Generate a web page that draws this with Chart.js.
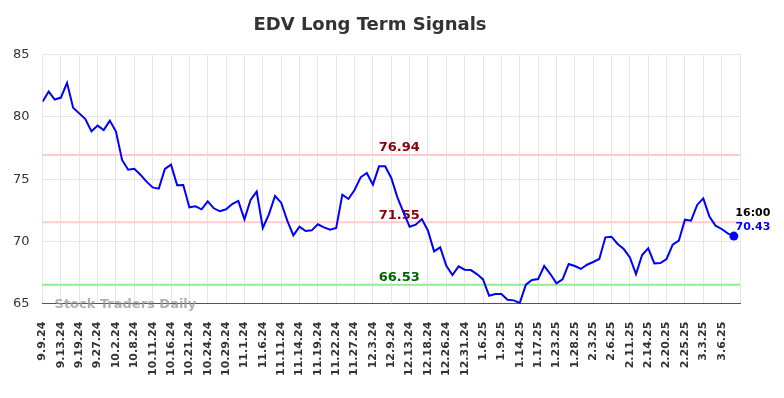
<!DOCTYPE html>
<html>
<head>
<meta charset="utf-8">
<script src="https://cdn.jsdelivr.net/npm/chart.js@4.4.0/dist/chart.umd.min.js"></script>
<style>
  html, body { margin: 0; padding: 0; background: #fff; }
  #wrap { width: 784px; height: 398px; }
</style>
</head>
<body>
<div id="wrap"><canvas id="signalChart"></canvas></div>
<script>
// Dates of each point (every 3rd one is shown on the axis)
var dates = [
  "9.9.24", "9.10.24", "9.12.24", "9.13.24", "9.16.24", "9.18.24",
  "9.19.24", "9.23.24", "9.25.24", "9.27.24", "9.30.24", "10.1.24",
  "10.2.24", "10.4.24", "10.7.24", "10.8.24", "10.9.24", "10.10.24",
  "10.11.24", "10.14.24", "10.15.24", "10.16.24", "10.17.24", "10.18.24",
  "10.21.24", "10.22.24", "10.23.24", "10.24.24", "10.25.24", "10.28.24",
  "10.29.24", "10.30.24", "10.31.24", "11.1.24", "11.4.24", "11.5.24",
  "11.6.24", "11.7.24", "11.8.24", "11.11.24", "11.12.24", "11.13.24",
  "11.14.24", "11.15.24", "11.18.24", "11.19.24", "11.20.24", "11.21.24",
  "11.22.24", "11.25.24", "11.26.24", "11.27.24", "11.29.24", "12.2.24",
  "12.3.24", "12.5.24", "12.6.24", "12.9.24", "12.10.24", "12.12.24",
  "12.13.24", "12.16.24", "12.17.24", "12.18.24", "12.20.24", "12.24.24",
  "12.26.24", "12.27.24", "12.30.24", "12.31.24", "1.2.25", "1.3.25",
  "1.6.25", "1.7.25", "1.8.25", "1.9.25", "1.10.25", "1.13.25",
  "1.14.25", "1.15.25", "1.16.25", "1.17.25", "1.21.25", "1.22.25",
  "1.23.25", "1.24.25", "1.27.25", "1.28.25", "1.30.25", "1.31.25",
  "2.3.25", "2.4.25", "2.5.25", "2.6.25", "2.7.25", "2.10.25",
  "2.11.25", "2.12.25", "2.13.25", "2.14.25", "2.18.25", "2.19.25",
  "2.20.25", "2.21.25", "2.24.25", "2.25.25", "2.26.25", "2.28.25",
  "3.3.25", "3.4.25", "3.5.25", "3.6.25", "3.7.25", "3.10.25"
];

// Closing prices
var prices = [
  81.22, 82.03, 81.39, 81.55, 82.73, 80.74, 80.28, 79.83, 78.84, 79.30,
  78.95, 79.70, 78.82, 76.54, 75.76, 75.84, 75.36, 74.80, 74.34, 74.24,
  75.82, 76.16, 74.52, 74.53, 72.74, 72.82, 72.58, 73.22, 72.66, 72.42,
  72.58, 73.00, 73.25, 71.77, 73.33, 74.00, 71.08, 72.17, 73.65, 73.11,
  71.67, 70.49, 71.18, 70.84, 70.89, 71.38, 71.13, 70.94, 71.08, 73.76,
  73.41, 74.13, 75.15, 75.50, 74.56, 76.03, 76.03, 75.10, 73.54, 72.33,
  71.18, 71.35, 71.80, 70.86, 69.20, 69.52, 68.05, 67.30, 68.00, 67.73,
  67.70, 67.38, 66.95, 65.64, 65.78, 65.78, 65.32, 65.27, 65.06, 66.53,
  66.90, 66.98, 68.03, 67.38, 66.63, 66.95, 68.19, 68.03, 67.79, 68.13,
  68.35, 68.59, 70.33, 70.38, 69.80, 69.39, 68.72, 67.38, 68.91, 69.44,
  68.24, 68.27, 68.59, 69.74, 70.06, 71.75, 71.67, 72.93, 73.46, 71.99,
  71.27, 71.00, 70.65, 70.43
];

// Signal levels
var resistanceLevels = [76.94, 71.55];
var supportLevels = [66.53];
var lastTime = "16:00";

var yTicks = [65, 70, 75, 80, 85];

var font = "DejaVu Sans";
var lastIndex = prices.length - 1;

// Lines, labels and watermark drawn on top of the plot
var overlay = {
  id: "overlay",
  beforeDatasetsDraw: function (chart) {
    var ctx = chart.ctx, a = chart.chartArea;
    var x = chart.scales.x, y = chart.scales.y;
    var labelX = x.getPixelForValue(58.3);
    ctx.save();
    ctx.lineWidth = 2;
    ctx.font = "bold 13px '" + font + "'";
    ctx.textAlign = "center";
    ctx.textBaseline = "alphabetic";
    resistanceLevels.forEach(function (lv) {
      var py = y.getPixelForValue(lv);
      ctx.strokeStyle = "#ffcccc";
      ctx.beginPath(); ctx.moveTo(a.left, py); ctx.lineTo(a.right, py); ctx.stroke();
      ctx.fillStyle = "#8b0000";
      ctx.fillText(lv.toFixed(2), labelX, py - 3.5);
    });
    supportLevels.forEach(function (lv) {
      var py = y.getPixelForValue(lv);
      ctx.strokeStyle = "#90ee90";
      ctx.beginPath(); ctx.moveTo(a.left, py); ctx.lineTo(a.right, py); ctx.stroke();
      ctx.fillStyle = "#006400";
      ctx.fillText(lv.toFixed(2), labelX, py - 3.5);
    });
    // watermark
    ctx.textAlign = "left";
    ctx.fillStyle = "rgba(150,150,150,0.75)";
    ctx.fillText("Stock Traders Daily", a.left + 12, a.bottom + 4);
    ctx.restore();
  },
  afterDatasetsDraw: function (chart) {
    var ctx = chart.ctx;
    var px = chart.scales.x.getPixelForValue(lastIndex);
    var py = chart.scales.y.getPixelForValue(prices[lastIndex]);
    ctx.save();
    ctx.font = "bold 11px '" + font + "'";
    ctx.textAlign = "center";
    ctx.fillStyle = "#000";
    ctx.fillText(lastTime, px + 19, py - 20.5);
    ctx.fillStyle = "#0000ff";
    ctx.fillText(prices[lastIndex].toFixed(2), px + 19, py - 6.5);
    ctx.restore();
  }
};

new Chart(document.getElementById("signalChart").getContext("2d"), {
  type: "line",
  data: {
    datasets: [{
      data: prices.map(function (v, i) { return { x: i, y: v }; }),
      borderColor: "#0000ff",
      backgroundColor: "#0000ff",
      borderWidth: 2,
      tension: 0,
      pointRadius: function (c) { return c.dataIndex === lastIndex ? 4.5 : 0; },
      pointBorderWidth: 0
    }]
  },
  plugins: [overlay],
  options: {
    responsive: true,
    maintainAspectRatio: false,
    animation: false,
    layout: { padding: { top: 5, right: 44, bottom: 4, left: 0 } },
    plugins: {
      legend: { display: false },
      tooltip: { enabled: false },
      title: {
        display: true,
        text: "EDV Long Term Signals",
        color: "#333",
        font: { family: font, size: 18, weight: "bold" },
        padding: { top: 10, bottom: 18 }
      }
    },
    scales: {
      x: {
        type: "linear",
        min: 0,
        max: 114,
        grid: { color: "#e6e6e6", drawTicks: false },
        border: { color: "#555", width: 1 },
        ticks: {
          stepSize: 3,
          autoSkip: false,
          includeBounds: false,
          minRotation: 90,
          maxRotation: 90,
          padding: 18,
          color: "#333",
          font: { family: font, size: 11, weight: "bold" },
          callback: function (v) { return dates[v] || ""; }
        }
      },
      y: {
        min: yTicks[0],
        max: yTicks[yTicks.length - 1],
        grid: { color: "#e6e6e6", drawTicks: false },
        border: { display: false },
        ticks: {
          stepSize: 5,
          padding: 13,
          color: "#333",
          font: { family: font, size: 13 }
        }
      }
    }
  }
});
</script>
</body>
</html>
